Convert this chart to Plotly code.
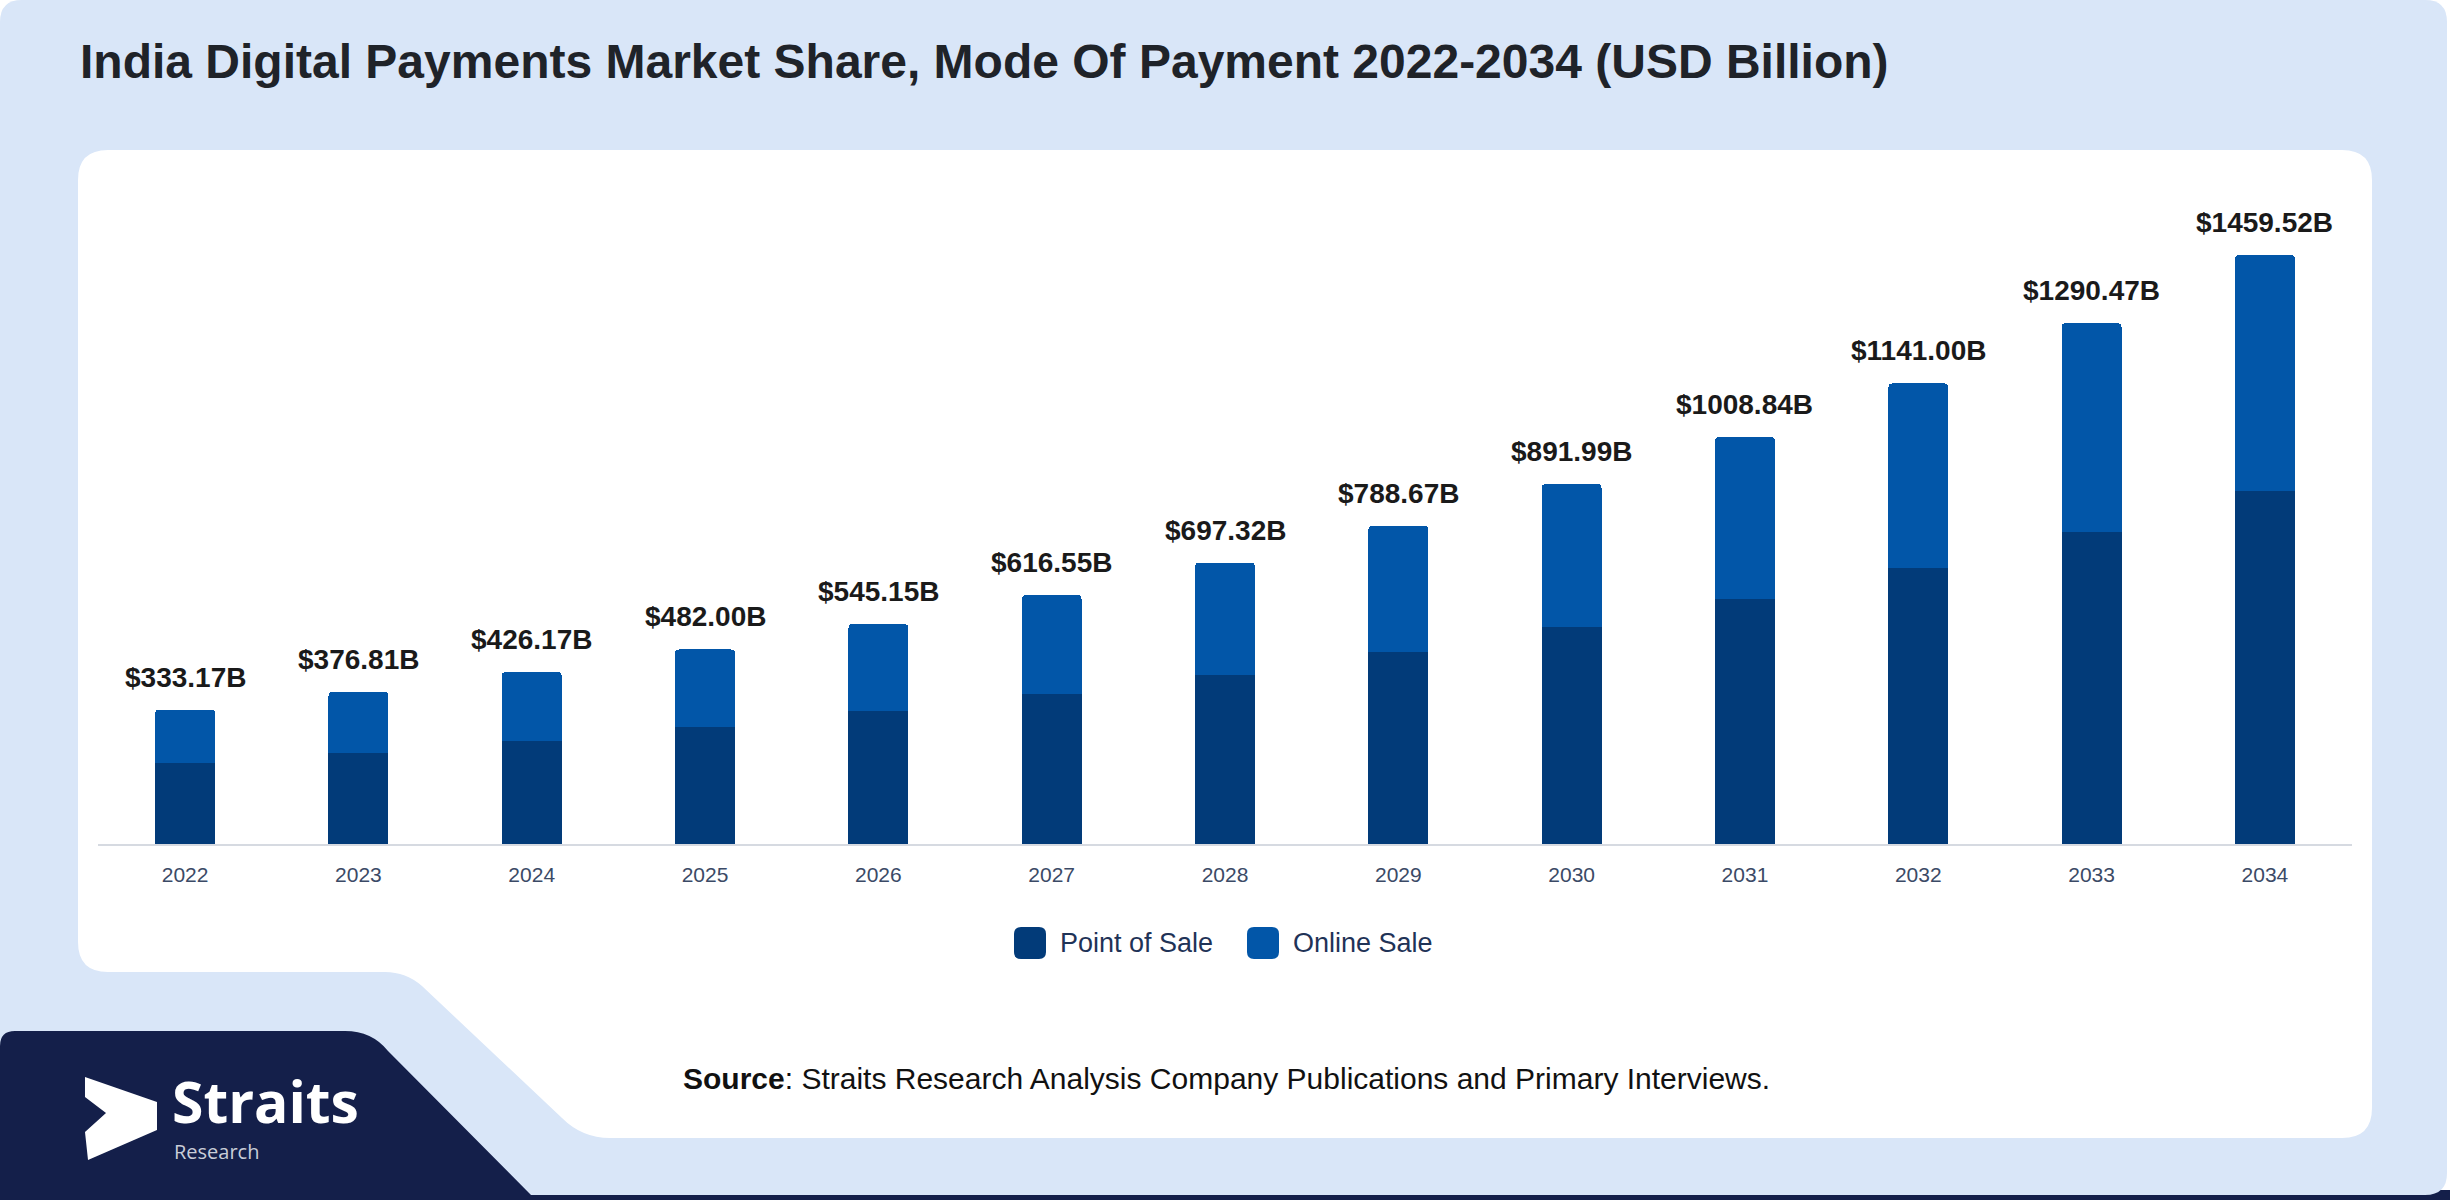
import plotly.graph_objects as go

# ---------------- data ----------------
years = ["2022", "2023", "2024", "2025", "2026", "2027", "2028",
         "2029", "2030", "2031", "2032", "2033", "2034"]
point_of_sale = [201.00, 226.00, 256.00, 290.00, 329.00, 372.00, 418.00,
                 476.00, 538.00, 608.00, 685.00, 774.00, 874.00]
online_sale = [132.17, 150.81, 170.17, 192.00, 216.15, 244.55, 279.32,
               312.67, 353.99, 400.84, 456.00, 516.47, 585.52]
totals = [333.17, 376.81, 426.17, 482.00, 545.15, 616.55, 697.32,
          788.67, 891.99, 1008.84, 1141.00, 1290.47, 1459.52]
series_names = ["Point of Sale", "Online Sale"]

title_text = "India Digital Payments Market Share, Mode Of Payment 2022-2034 (USD Billion)"
source_text = "<b>Source</b>: Straits Research Analysis Company Publications and Primary Interviews."

# ---------------- styling ----------------
W, H = 2450, 1200
C_POS = "#023b79"
C_ONLINE = "#0256a8"
C_BG = "#d9e6f8"
C_NAVY = "#141f4a"
FONT = "Liberation Sans, Arial, sans-serif"


def px(x):
    return x / W


def py(y):
    return 1 - y / H


def path(cmds):
    out = []
    for c, pts in cmds:
        if c == "Z":
            out.append("Z")
            continue
        coords = " ".join(f"{px(x):.5f},{py(y):.5f}" for x, y in pts)
        out.append(f"{c} {coords}")
    return " ".join(out)


def rrect(x0, y0, x1, y1, r):
    return path([
        ("M", [(x0 + r, y0)]), ("L", [(x1 - r, y0)]), ("Q", [(x1, y0), (x1, y0 + r)]),
        ("L", [(x1, y1 - r)]), ("Q", [(x1, y1), (x1 - r, y1)]),
        ("L", [(x0 + r, y1)]), ("Q", [(x0, y1), (x0, y1 - r)]),
        ("L", [(x0, y0 + r)]), ("Q", [(x0, y0), (x0 + r, y0)]), ("Z", []),
    ])


fig = go.Figure()
fig.add_trace(go.Bar(x=years, y=point_of_sale, name=series_names[0],
                     marker=dict(color=C_POS, line=dict(width=0)), width=0.345,
                     hovertemplate="%{x}: %{y}<extra></extra>"))
fig.add_trace(go.Bar(x=years, y=online_sale, name=series_names[1],
                     marker=dict(color=C_ONLINE, line=dict(width=0), cornerradius=4), width=0.345,
                     hovertemplate="%{x}: %{y}<extra></extra>"))

shapes = []
# outer background card
shapes.append(dict(type="rect", xref="paper", yref="paper", x0=0, x1=1, y0=py(1200), y1=py(1190),
                   fillcolor=C_NAVY, line=dict(width=0), layer="below"))
shapes.append(dict(type="path", xref="paper", yref="paper", path=rrect(0, 0, 2447, 1195, 22),
                   fillcolor=C_BG, line=dict(width=0), layer="below"))
# navy logo block
shapes.append(dict(type="path", xref="paper", yref="paper", layer="below",
                   fillcolor=C_NAVY, line=dict(width=0),
                   path=path([("M", [(0, 1200)]), ("L", [(0, 1046)]), ("Q", [(0, 1031), (15, 1031)]),
                              ("L", [(345, 1031)]), ("Q", [(372, 1031), (388, 1051)]),
                              ("L", [(532, 1196)]), ("L", [(545, 1200)]), ("Z", [])])))
# white panel
shapes.append(dict(type="path", xref="paper", yref="paper", layer="below",
                   fillcolor="#ffffff", line=dict(width=0),
                   path=path([("M", [(108, 150)]), ("L", [(2342, 150)]), ("Q", [(2372, 150), (2372, 180)]),
                              ("L", [(2372, 1108)]), ("Q", [(2372, 1138), (2342, 1138)]),
                              ("L", [(610, 1138)]), ("Q", [(582, 1138), (562, 1118)]),
                              ("L", [(422, 986)]), ("Q", [(406, 972), (385, 972)]),
                              ("L", [(108, 972)]), ("Q", [(78, 972), (78, 942)]),
                              ("L", [(78, 180)]), ("Q", [(78, 150), (108, 150)]), ("Z", [])])))
# logo icon
shapes.append(dict(type="path", xref="paper", yref="paper", layer="above",
                   fillcolor="#ffffff", line=dict(width=0),
                   path=path([("M", [(85, 1077)]), ("L", [(157, 1102)]), ("L", [(157, 1130)]),
                              ("L", [(88, 1160)]), ("L", [(85, 1132)]), ("L", [(106, 1113)]),
                              ("L", [(85, 1097)]), ("Z", [])])))
# legend swatches
shapes.append(dict(type="path", xref="paper", yref="paper", path=rrect(1014, 927, 1046, 959, 7),
                   fillcolor=C_POS, line=dict(width=0)))
shapes.append(dict(type="path", xref="paper", yref="paper", path=rrect(1247, 927, 1279, 959, 7),
                   fillcolor=C_ONLINE, line=dict(width=0)))

annotations = []
for i, t in enumerate(totals):
    annotations.append(dict(x=i, y=t, xref="x", yref="y", text=f"${t:.2f}B", showarrow=False,
                            yanchor="bottom", yshift=15,
                            font=dict(family=FONT, size=28, color="#1a1a1a", weight="bold")))
annotations.append(dict(x=px(78), y=py(62), xref="paper", yref="paper", text=f"<b>{title_text}</b>",
                        showarrow=False, xanchor="left", yanchor="middle",
                        font=dict(family=FONT, size=48, color="#1f2329")))
annotations.append(dict(x=px(1058), y=py(943), xref="paper", yref="paper", text=series_names[0],
                        showarrow=False, xanchor="left", yanchor="middle",
                        font=dict(family=FONT, size=27, color="#1f3357")))
annotations.append(dict(x=px(1291), y=py(943), xref="paper", yref="paper", text=series_names[1],
                        showarrow=False, xanchor="left", yanchor="middle",
                        font=dict(family=FONT, size=27, color="#1f3357")))
annotations.append(dict(x=px(681), y=py(1078), xref="paper", yref="paper", text=source_text,
                        showarrow=False, xanchor="left", yanchor="middle",
                        font=dict(family=FONT, size=30, color="#111111")))
annotations.append(dict(x=px(170), y=py(1101), xref="paper", yref="paper", text="<b>Straits</b>",
                        showarrow=False, xanchor="left", yanchor="middle",
                        font=dict(family="Open Sans, sans-serif", size=57, color="#ffffff")))
annotations.append(dict(x=px(172), y=py(1151), xref="paper", yref="paper", text="Research",
                        showarrow=False, xanchor="left", yanchor="middle",
                        font=dict(family="Open Sans, sans-serif", size=20, color="#c9cdd8")))

fig.update_layout(
    width=W, height=H, autosize=False,
    margin=dict(l=0, r=0, t=0, b=0, pad=0, autoexpand=False),
    paper_bgcolor="#ffffff", plot_bgcolor="rgba(0,0,0,0)",
    barmode="stack", showlegend=False,
    font=dict(family=FONT),
    shapes=shapes, annotations=annotations,
    xaxis=dict(domain=[98.4 / W, 2351.6 / W], type="category", range=[-0.5, 12.5],
               autorange=False, showgrid=False, zeroline=False,
               showline=True, linecolor="#d6dae1", linewidth=2,
               ticks="", ticklabelstandoff=11,
               tickfont=dict(family=FONT, size=21, color="#3b4a66")),
    yaxis=dict(domain=[py(844), py(198.2)], range=[0, 1600], autorange=False,
               showgrid=False, zeroline=False,
               showline=False, showticklabels=False, ticks=""),
)

fig.write_html("out.html", config={"displayModeBar": False},
               post_script="document.body.style.margin='0';document.body.style.overflow='hidden';")
